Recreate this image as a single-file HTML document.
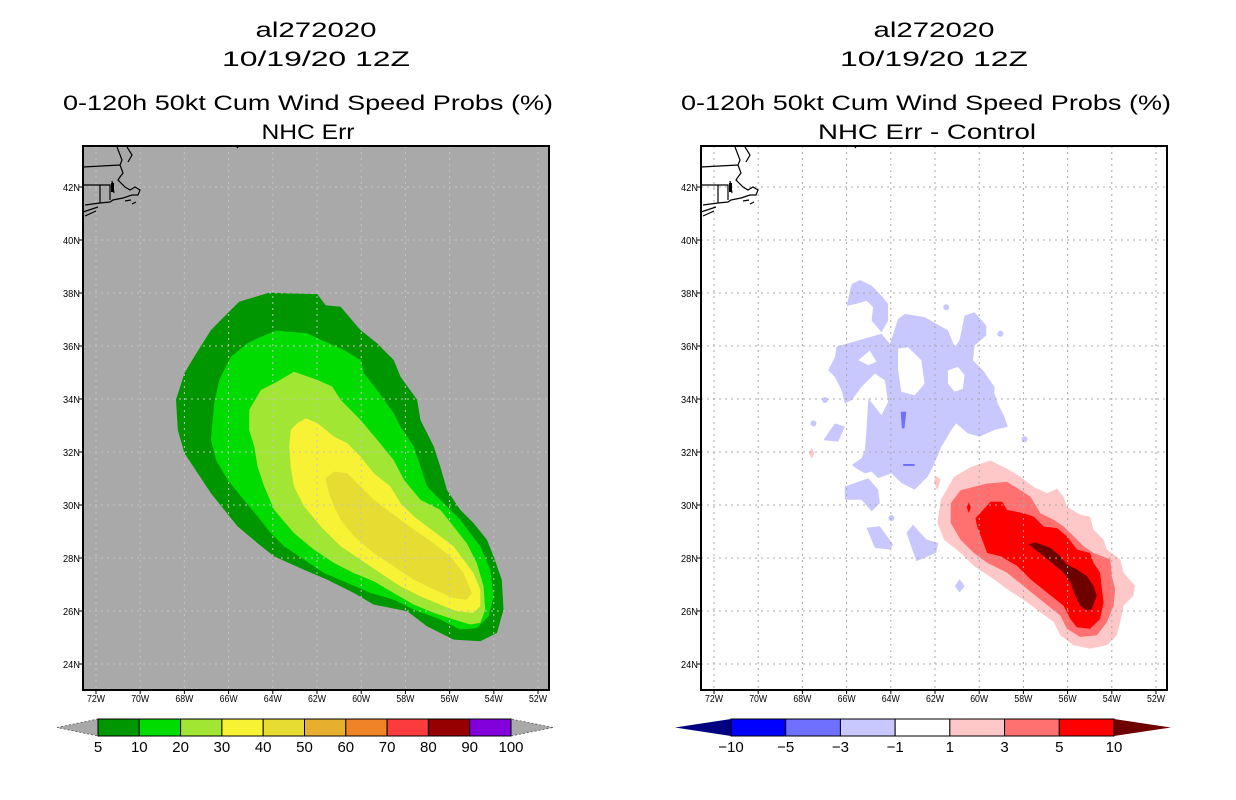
<!DOCTYPE html>
<html><head><meta charset="utf-8"><style>
html,body{margin:0;padding:0;background:#fff;}
svg{display:block;font-family:"Liberation Sans",sans-serif;}
</style></head><body>
<svg id="chart" width="1236" height="800" viewBox="0 0 1236 800" xmlns="http://www.w3.org/2000/svg">
<rect width="1236" height="800" fill="#fff"/>
<g font-size="21" fill="#000" text-anchor="middle">
<text x="316" y="37" textLength="121" lengthAdjust="spacingAndGlyphs">al272020</text>
<text x="316" y="66" textLength="188" lengthAdjust="spacingAndGlyphs">10/19/20 12Z</text>
<text x="308" y="110" textLength="490" lengthAdjust="spacingAndGlyphs">0-120h 50kt Cum Wind Speed Probs (%)</text>
<text x="308" y="139" textLength="93" lengthAdjust="spacingAndGlyphs">NHC Err</text>
</g>
<g font-size="21" fill="#000" text-anchor="middle">
<text x="934" y="37" textLength="121" lengthAdjust="spacingAndGlyphs">al272020</text>
<text x="934" y="66" textLength="188" lengthAdjust="spacingAndGlyphs">10/19/20 12Z</text>
<text x="926" y="110" textLength="490" lengthAdjust="spacingAndGlyphs">0-120h 50kt Cum Wind Speed Probs (%)</text>
<text x="927" y="139" textLength="218" lengthAdjust="spacingAndGlyphs">NHC Err - Control</text>
</g>
<g id="left"></g><g id="right"></g><g id="cbars"></g>
</svg>
<script>
// ---- data (lon W, lat N) ----
const lonTicks=[72,70,68,66,64,62,60,58,56,54,52];
const latTicks=[42,40,38,36,34,32,30,28,26,24];
const probLevels=[5,10,20,30,40];
const probColors=["#009600","#00dc00","#a0e632","#f7f234","#e6dc32"];
const prob5=[[65.52,37.67],[64.17,38.01],[61.98,37.96],[61.61,37.54],[60.93,37.48],[60.03,36.6],[59.28,36.1],[58.53,35.47],[58.22,34.84],[57.47,33.97],[57.32,33.21],[56.72,32.21],[56.42,31.45],[56.12,30.57],[55.52,29.82],[54.92,29.32],[54.31,28.69],[54.01,28.06],[53.64,27.18],[53.56,26.05],[53.86,25.17],[54.61,24.86],[55.82,24.92],[57.02,25.42],[57.92,25.99],[59.43,26.24],[60.33,26.68],[61.53,27.18],[62.59,27.56],[63.94,28.06],[64.69,28.56],[65.59,29.19],[66.2,29.82],[66.8,30.45],[67.4,31.2],[68.0,31.96],[68.3,32.83],[68.38,33.97],[68.0,34.97],[67.55,35.6],[66.8,36.6],[66.05,37.23]];
const prob10=[[64.69,36.29],[63.86,36.58],[62.44,36.48],[61.98,36.29],[60.78,35.85],[60.03,35.47],[59.88,34.97],[59.28,34.34],[58.53,33.46],[58.22,32.96],[57.62,32.21],[57.32,31.45],[57.02,30.7],[56.57,30.32],[56.12,29.95],[55.52,29.44],[55.07,28.94],[54.61,28.44],[54.16,27.56],[54.01,26.55],[54.24,25.8],[54.77,25.36],[55.52,25.3],[56.42,25.68],[57.62,26.05],[58.53,26.43],[59.58,26.68],[60.63,27.06],[61.68,27.43],[62.59,27.94],[63.49,28.44],[64.09,28.94],[64.69,29.57],[65.44,30.32],[66.05,30.95],[66.57,31.7],[66.8,32.46],[66.65,33.84],[66.42,34.72],[65.89,35.6],[65.14,36.1]];
const prob20=[[65.07,33.59],[64.54,34.34],[63.79,34.66],[63.04,35.03],[61.98,34.72],[61.31,34.47],[60.93,33.97],[60.03,33.21],[59.28,32.46],[58.53,31.7],[58.07,30.95],[57.32,30.2],[56.42,29.82],[55.82,29.19],[55.22,28.56],[54.77,27.81],[54.46,26.93],[54.39,26.05],[54.61,25.55],[55.07,25.49],[55.82,25.68],[56.72,25.93],[57.62,26.24],[58.53,26.68],[59.43,27.12],[60.33,27.43],[61.23,27.81],[62.13,28.31],[63.04,28.94],[63.94,29.82],[64.39,30.7],[64.69,31.45],[64.84,32.21],[65.07,32.83]];
const prob30=[[63.19,32.83],[62.89,33.09],[62.51,33.27],[61.98,33.09],[61.23,32.58],[60.63,32.33],[60.03,31.83],[59.43,31.2],[58.68,30.7],[58.22,30.07],[57.62,29.57],[57.02,29.19],[56.42,28.82],[55.82,28.44],[55.37,27.94],[54.92,27.43],[54.61,26.81],[54.61,26.18],[54.92,25.93],[55.67,25.99],[56.42,26.24],[57.32,26.55],[58.22,26.93],[59.13,27.43],[60.03,27.94],[60.93,28.44],[61.83,29.19],[62.59,29.95],[63.04,30.7],[63.19,31.45],[63.26,32.21]];
const prob40=[[61.61,31.01],[61.23,31.26],[60.63,31.2],[60.03,30.7],[59.43,30.2],[58.83,29.82],[58.22,29.44],[57.62,29.07],[56.72,28.56],[55.97,28.06],[55.37,27.43],[54.99,26.68],[55.22,26.43],[55.82,26.49],[56.72,26.81],[57.62,27.18],[58.53,27.69],[59.43,28.19],[60.33,28.82],[60.93,29.44],[61.23,29.95],[61.46,30.45]];
const diffPos1=[[61.74,30.19],[61.14,31.06],[60.39,31.43],[59.49,31.68],[58.74,31.37],[58.13,31.06],[57.53,30.68],[56.93,30.44],[56.48,30.62],[56.18,30.31],[56.03,29.94],[55.43,29.63],[54.98,29.56],[54.83,29.07],[54.37,28.69],[54.22,28.32],[53.62,27.95],[53.47,27.45],[52.95,26.95],[53.02,26.58],[53.47,26.2],[53.62,25.58],[53.77,25.08],[54.22,24.71],[54.98,24.58],[55.73,24.71],[56.33,25.08],[56.63,25.58],[57.23,25.95],[57.83,26.33],[58.74,26.83],[59.34,27.2],[60.24,27.7],[60.84,28.19],[61.59,28.69],[61.89,29.32]];
const diffPos3=[[61.29,30.06],[60.84,30.56],[59.64,30.81],[58.74,30.87],[58.13,30.56],[57.68,30.31],[57.23,29.69],[56.63,29.44],[56.18,29.19],[55.73,28.82],[55.28,28.44],[54.83,28.19],[54.07,27.95],[54.0,27.32],[53.85,26.83],[53.92,26.2],[54.22,25.58],[54.68,25.08],[55.43,25.02],[56.03,25.33],[56.33,25.83],[57.08,26.33],[57.83,26.83],[58.74,27.45],[59.64,27.82],[60.24,28.19],[60.84,28.69],[61.29,29.32]];
const diffPos5=[[60.17,29.5],[59.49,30.12],[58.96,30.12],[58.74,29.81],[57.98,29.69],[57.53,29.56],[57.08,29.19],[56.48,29.13],[56.03,28.82],[55.58,28.32],[54.98,28.19],[54.83,27.82],[54.53,27.45],[54.45,26.83],[54.37,26.33],[54.53,25.7],[54.98,25.33],[55.58,25.39],[55.88,25.7],[56.18,26.2],[56.93,26.7],[57.68,27.2],[58.28,27.7],[59.04,28.07],[59.64,28.19],[60.09,29.19]];
const diffPos5b=[[60.47,30.1],[60.38,29.91],[60.47,29.7],[60.56,29.91]];
const diffPos10=[[57.76,28.51],[57.46,28.59],[56.78,28.38],[56.33,28.07],[56.03,27.76],[55.58,27.57],[55.13,27.32],[54.83,26.95],[54.68,26.58],[54.9,26.08],[55.13,26.02],[55.43,26.2],[55.65,26.58],[55.88,27.07],[56.18,27.45],[56.63,27.76],[57.08,28.07]];
const diffPosSmall1=[[67.58,32.15],[67.45,31.95],[67.58,31.75],[67.7,31.95]];
const diffPosSmall2=[[61.94,31.1],[61.75,30.95],[61.9,30.55],[62.05,30.9]];
const diffNegMain=[[66.45,35.98],[64.42,36.46],[64.04,36.08],[63.67,37.02],[63.37,37.21],[62.47,37.09],[61.41,36.59],[61.11,35.96],[60.89,36.21],[60.66,37.15],[60.21,37.27],[59.68,36.77],[59.68,36.4],[60.21,36.02],[60.28,35.46],[59.83,35.08],[59.31,34.46],[59.31,34.21],[59.16,33.83],[58.86,33.33],[58.71,32.95],[59.31,32.83],[59.98,32.58],[60.51,32.7],[61.04,33.08],[61.26,32.83],[61.71,32.2],[62.09,31.45],[62.32,31.08],[62.92,30.58],[63.52,30.83],[63.97,31.2],[64.57,31.01],[64.87,31.26],[65.17,31.2],[65.47,31.33],[65.77,31.51],[65.32,31.77],[65.17,32.08],[65.1,32.83],[65.02,34.02],[64.72,33.71],[64.42,33.39],[64.12,33.89],[64.27,34.71],[64.72,34.96],[65.32,34.46],[65.77,33.96],[66.08,33.83],[66.23,34.33],[66.53,34.83],[66.83,35.08],[66.53,35.58]];
const diffNegHook=[[66.0,37.52],[65.77,38.34],[65.4,38.49],[64.87,38.28],[64.42,37.9],[64.12,37.59],[64.12,36.96],[64.42,36.52],[64.87,36.96],[64.8,37.46],[65.1,37.71],[65.55,37.59]];
const diffNegLow=[[66.08,30.7],[65.02,31.01],[64.57,30.58],[64.5,30.07],[64.87,29.76],[65.32,30.2],[66.08,30.2]];
const diffNegB1=[[67.05,32.45],[66.53,33.08],[66.08,32.95],[66.38,32.39]];
const diffNegB2=[[65.1,29.14],[64.5,29.2],[63.89,28.51],[64.04,28.32],[64.72,28.38]];
const diffNegB3=[[63.0,29.26],[62.39,28.7],[61.86,28.57],[61.94,28.2],[62.84,27.88],[63.29,28.95]];
const diffNegB4=[[60.89,27.2],[60.65,26.94],[60.89,26.7],[61.1,26.94]];
const diffNegDots=[[61.49,37.46],[59.04,36.46],[66.98,33.96],[67.5,33.08],[57.95,32.48],[63.97,29.51]];
const diffHoles=[
 [[65.47,35.46],[64.95,35.83],[64.65,35.4],[65.02,35.27]],
 [[63.67,35.9],[63.22,35.96],[62.62,35.46],[62.47,34.58],[62.92,34.14],[63.52,34.27],[63.67,35.08]],
 [[61.41,35.08],[60.96,35.21],[60.66,34.9],[60.74,34.39],[61.11,34.27],[61.41,34.58]]];
const diffNeg3=[[63.55,33.52],[63.3,33.52],[63.38,32.89],[63.5,32.89]];
const probCbarLabels=["5","10","20","30","40","50","60","70","80","90","100"];
const probCbarColors=["#009600","#00dc00","#a0e632","#f7f234","#e6dc32","#e6af2d","#f08228","#fa3c3c","#960000","#8200dc"];
const diffCbarLabels=["-10","-5","-3","-1","1","3","5","10"];
const diffCbarColors=["#0000ff","#7070ff","#c8c8ff","#ffffff","#ffc8c8","#ff7070","#ff0000"];

// ---- axes ----
const NS="http://www.w3.org/2000/svg";
const BOX={x0:83,x1:549,y0:146,y1:690};
function xS(lon,off){return off+96+(72-lon)*22.1;}
function yS(lat){return 187+(42-lat)*26.5;}
function mk(tag,attrs,parent){const e=document.createElementNS(NS,tag);for(const k in attrs)e.setAttribute(k,attrs[k]);parent.appendChild(e);return e;}
function pts(arr,off){return arr.map(p=>xS(p[0],off).toFixed(1)+","+yS(p[1]).toFixed(1)).join(" ");}
function poly(g,arr,off,fill,name){const e=mk("polygon",{points:pts(arr,off),fill:fill},g);

return e;}

function coast(g,off){
 const d="M117,147 L122,160 L120,165 L123,173 L120,177 L118,180 L125,187 L130,190 L135,187 L140,190 L138,195 L132,195 L123,198 L113,200 L110,202 L100,203 L85,205 M83,167 L120,165 M83,185 L110,185 L110,200 M100,185 L100,203 M127,147 L132,155 L128,162 M83,212 L98,207 M85,216 L96,211 M125,201 L131,200 M132,204 L136,202 M112,181 L114,193 M236,146 L238,148";
 const p=mk("path",{d:d,fill:"none",stroke:"#000","stroke-width":"1.2",transform:"translate("+off+",0)"},g);
 
 
 const r=mk("rect",{x:111+off,y:183,width:3,height:9,fill:"#000"},g);
 
 
}
function frame(g,off,bg){
 const b=mk("rect",{x:BOX.x0+off,y:BOX.y0,width:BOX.x1-BOX.x0,height:BOX.y1-BOX.y0,fill:bg},g);
 
 
}
function gridAxes(g,off,gridColor){
 const gg=mk("g",{},g);
 
 
 lonTicks.forEach(l=>{const x=xS(l,off);mk("line",{x1:x,x2:x,y1:BOX.y0,y2:BOX.y1,stroke:gridColor,"stroke-width":1,"stroke-dasharray":"2,4"},gg);});
 latTicks.forEach(l=>{const y=yS(l);mk("line",{x1:BOX.x0+off,x2:BOX.x1+off,y1:y,y2:y,stroke:gridColor,"stroke-width":1,"stroke-dasharray":"2,4"},gg);});
 const fr=mk("rect",{x:BOX.x0+off,y:BOX.y0,width:BOX.x1-BOX.x0,height:BOX.y1-BOX.y0,fill:"none",stroke:"#000","stroke-width":2},g);
 
 
 const xa=mk("g",{"font-size":"10",fill:"#000","text-anchor":"middle"},g);
 
 
 lonTicks.forEach(l=>{const x=xS(l,off);mk("line",{x1:x,x2:x,y1:BOX.y1,y2:BOX.y1+4,stroke:"#000"},xa);
  const t=mk("text",{x:x,y:702,textLength:18,lengthAdjust:"spacingAndGlyphs"},xa);t.textContent=l+"W";});
 const ya=mk("g",{"font-size":"10",fill:"#000","text-anchor":"end"},g);
 
 
 latTicks.forEach(l=>{const y=yS(l);mk("line",{x1:BOX.x0+off-4,x2:BOX.x0+off,y1:y,y2:y,stroke:"#000"},ya);
  const t=mk("text",{x:BOX.x0+off-3,y:y+4,textLength:17,lengthAdjust:"spacingAndGlyphs"},ya);t.textContent=l+"N";});
}

// left panel
const L=document.getElementById("left");


frame(L,0,"#a9a9a9");
[prob5,prob10,prob20,prob30,prob40].forEach((a,i)=>poly(L,a,0,probColors[i],"prob-contour-"+probLevels[i]));
gridAxes(L,0,"#c4c4c4");
coast(L,0);

// right panel
const R=document.getElementById("right");


const OFF=618;
frame(R,OFF,"#ffffff");
const neg="#c8c8ff";
[diffNegMain,diffNegHook,diffNegLow,diffNegB1,diffNegB2,diffNegB3,diffNegB4].forEach((a,i)=>poly(R,a,OFF,neg,"diff-negative-area-"+i));
diffHoles.forEach((a,i)=>poly(R,a,OFF,"#ffffff","diff-hole-"+i));
diffNegDots.forEach((p,i)=>{const c=mk("circle",{cx:xS(p[0],OFF),cy:yS(p[1]),r:3,fill:neg},R);
 
 });
poly(R,diffNeg3,OFF,"#7070ff","diff-negative-3");
const ar=mk("line",{x1:xS(63.44,OFF),x2:xS(62.92,OFF),y1:yS(31.51),y2:yS(31.51),stroke:"#7070ff","stroke-width":2},R);


poly(R,diffPosSmall1,OFF,"#ffc8c8","diff-positive-small");
poly(R,diffPosSmall2,OFF,"#ffc8c8","diff-positive-small");
poly(R,diffPos1,OFF,"#ffc8c8","diff-positive-1");
poly(R,diffPos3,OFF,"#ff7070","diff-positive-3");
poly(R,diffPos5,OFF,"#ff0000","diff-positive-5");
poly(R,diffPos5b,OFF,"#ff0000","diff-positive-5-spot");
poly(R,diffPos10,OFF,"#6e0000","diff-positive-10");
gridAxes(R,OFF,"#a8a8a8");
coast(R,OFF);

// colorbars
const C=document.getElementById("cbars");
function cbar(x0,x1,tipL,tipR,colors,labels,lc,rc,dashed,name){
 const g=mk("g",{},C);
 
 
 const y0=719,y1=736,ym=727.5,w=(x1-x0)/colors.length;
 const tl=mk("polygon",{points:`${tipL},${ym} ${x0},${y0} ${x0},${y1}`,fill:lc,stroke:dashed?"#555":"none","stroke-dasharray":"2,2","stroke-width":dashed?0.8:0},g);
 
 
 const tr=mk("polygon",{points:`${tipR},${ym} ${x1},${y0} ${x1},${y1}`,fill:rc,stroke:dashed?"#555":"none","stroke-dasharray":"2,2","stroke-width":dashed?0.8:0},g);
 
 
 colors.forEach((c,i)=>{const r=mk("rect",{x:x0+i*w,y:y0,width:w,height:y1-y0,fill:c,stroke:"#000","stroke-width":1},g);
  
  });
 labels.forEach((s,i)=>{const t=mk("text",{x:x0+i*w,y:752,"font-size":"15","text-anchor":"middle",fill:"#000"},g);t.textContent=s.replace("-","\u2212");
  
  });
}
cbar(98,511,57,553,probCbarColors,probCbarLabels,"#a9a9a9","#a9a9a9",true,"probability-colorbar");
cbar(731,1114,675,1171,diffCbarColors,diffCbarLabels,"#000080","#6e0000",false,"difference-colorbar");
</script>
</body></html>
